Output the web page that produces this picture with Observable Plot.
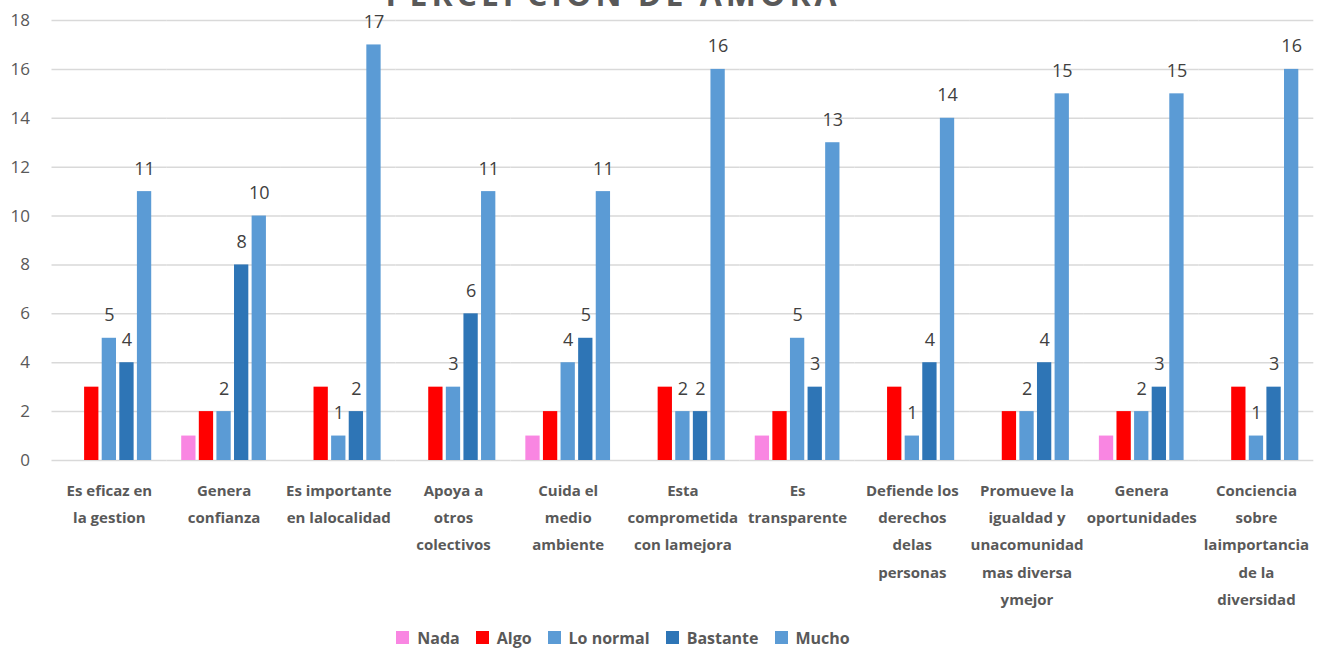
<!DOCTYPE html>
<html><head><meta charset="utf-8">
<script src="https://cdn.jsdelivr.net/npm/d3@7"></script>
<script src="https://cdn.jsdelivr.net/npm/@observablehq/plot@0.6"></script>
<style>
body{margin:0;background:#fff;overflow:hidden;font-family:"Open Sans",sans-serif}
#wrap{position:relative;width:1319px;height:653px;overflow:hidden}
#title{position:absolute;top:-22px;left:0;width:1226px;text-align:center;font:bold 32px/32px "Open Sans",sans-serif;color:#595959;letter-spacing:4px}
#chart{position:absolute;top:0;left:0}
#legend{position:absolute;top:621px;left:0;width:1262px;display:flex;justify-content:center}
</style></head>
<body><div id="wrap"><div id="chart"></div><div id="title">PERCEPCION DE AMORA</div><div id="legend"></div></div>
<script>
const categories = [
  "Es eficaz en\nla gestion",
  "Genera\nconfianza",
  "Es importante\nen lalocalidad",
  "Apoya a\notros\ncolectivos",
  "Cuida el\nmedio\nambiente",
  "Esta\ncomprometida\ncon lamejora",
  "Es\ntransparente",
  "Defiende los\nderechos\ndelas\npersonas",
  "Promueve la\nigualdad y\nunacomunidad\nmas diversa\nymejor",
  "Genera\noportunidades",
  "Conciencia\nsobre\nlaimportancia\nde la\ndiversidad"
];
const seriesNames = ["Nada", "Algo", "Lo normal", "Bastante", "Mucho"];
const nada     = [0, 1, 0, 0, 1, 0, 1, 0, 0, 1, 0];
const algo     = [3, 2, 3, 3, 2, 3, 2, 3, 2, 2, 3];
const loNormal = [5, 2, 1, 3, 4, 2, 5, 1, 2, 2, 1];
const bastante = [4, 8, 2, 6, 5, 2, 3, 4, 4, 3, 3];
const mucho    = [11, 10, 17, 11, 11, 16, 13, 14, 15, 15, 16];
const labeledSeries = ["Lo normal", "Bastante", "Mucho"];
const yTicks = [0, 2, 4, 6, 8, 10, 12, 14, 16, 18];
const colors = ["#F986E2", "#FF0000", "#5B9BD5", "#2E75B6", "#5B9BD5"];

const seriesValues = [nada, algo, loNormal, bastante, mucho];
const data = [];
categories.forEach((c, i) => {
  seriesNames.forEach((s, j) => data.push({cat: c, series: s, value: seriesValues[j][i]}));
});

const chart = Plot.plot({
  width: 1319, height: 620,
  marginTop: 20, marginBottom: 160, marginLeft: 51.5, marginRight: 5.7,
  style: {fontFamily: "'Open Sans', sans-serif", color: "#595959", background: "#fff"},
  fx: {domain: categories, padding: 0, round: false, label: null},
  x: {domain: seriesNames, paddingInner: 0.1875, paddingOuter: 0.852, round: false, axis: null},
  y: {domain: [0, 18], label: null},
  color: {domain: seriesNames, range: colors},
  marks: [
    Plot.gridY(yTicks, {stroke: "#d9d9d9", strokeOpacity: 1, strokeWidth: 1.5}),
    Plot.barY(data, {fx: "cat", x: "series", y: "value", fill: "series"}),
    Plot.text(data.filter(d => labeledSeries.includes(d.series)), {
      fx: "cat", x: "series", y: "value", text: d => String(d.value),
      lineAnchor: "bottom", dy: -17, fontSize: 18, fill: "#404040"
    }),
    Plot.axisY(yTicks, {tickSize: 0, tickPadding: 22, fontSize: 17, label: null, fill: "#595959"}),
    Plot.axisFx({anchor: "bottom", tickSize: 0, tickPadding: 16, fontSize: 15, fontWeight: "bold",
      lineHeight: 1.82, label: null, fill: "#595959", tickFormat: d => d})
  ]
});
document.getElementById("chart").appendChild(chart);

const leg = Plot.legend({
  color: {domain: seriesNames, range: colors},
  legend: "swatches", swatchSize: 13,
  style: {fontFamily: "'Open Sans', sans-serif", fontSize: "16px", fontWeight: "bold", color: "#595959"}
});
document.getElementById("legend").appendChild(leg);
</script></body></html>
